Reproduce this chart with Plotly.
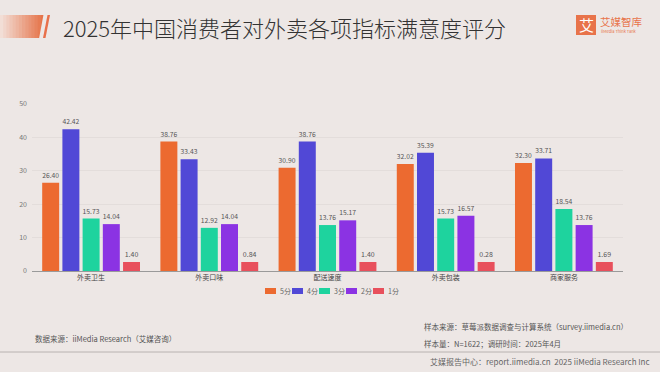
import plotly.graph_objects as go

categories = ["外卖卫生", "外卖口味", "配送速度", "外卖包装", "商家服务"]
series_names = ["5分", "4分", "3分", "2分", "1分"]
score5 = [26.40, 38.76, 30.90, 32.02, 32.30]
score4 = [42.42, 33.43, 38.76, 35.39, 33.71]
score3 = [15.73, 12.92, 13.76, 15.73, 18.54]
score2 = [14.04, 14.04, 15.17, 16.57, 13.76]
score1 = [1.40, 0.84, 1.40, 0.28, 1.69]
colors = ["#EC6A30", "#5148D6", "#1ED39E", "#8B33E3", "#E8505C"]

MIN_BAR = 2.7  # minimum rendered bar height (as in source chart)
FONT = "Noto Sans CJK SC, Noto Sans, sans-serif"

L, R, T, B = 32, 37, 104, 101
W, H = 660, 372
PW, PH = W - L - R, H - T - B


def px(x):
    return (x - L) / PW


def py(y):
    return (H - B - y) / PH


fig = go.Figure()
for name, vals, col in zip(series_names, [score5, score4, score3, score2, score1], colors):
    fig.add_trace(go.Bar(
        x=categories, y=[max(v, MIN_BAR) for v in vals], name=name,
        marker=dict(color=col, line=dict(width=0)),
        text=[f"{v:.2f}" for v in vals], textposition="outside",
        textfont=dict(size=7, color="#555555", family=FONT),
        cliponaxis=False, hoverinfo="skip", showlegend=False,
    ))

BG = "#EDE7E5"
fig.update_layout(
    width=W, height=H,
    paper_bgcolor=BG, plot_bgcolor=BG,
    margin=dict(l=L, r=R, t=T, b=B, autoexpand=False),
    barmode="group", bargap=0.145, bargroupgap=0.16,
    font=dict(family=FONT, size=7, color="#555555"),
    showlegend=False,
    xaxis=dict(showgrid=False, showline=True, linecolor="#9A9A9A", linewidth=1,
               ticks="", tickfont=dict(size=7, color="#444444"), fixedrange=True,
               automargin=False),
    yaxis=dict(range=[0, 50], dtick=10, showgrid=True, gridcolor="#E3DDDB", gridwidth=1,
               zeroline=False, showline=False, tickfont=dict(size=7, color="#777777"),
               ticklabelstandoff=4, automargin=False),
)

# Custom compact legend
leg_x0 = 265
for i, (name, col) in enumerate(zip(series_names, colors)):
    xs = leg_x0 + i * 27
    fig.add_shape(type="rect", xref="paper", yref="paper",
                  x0=px(xs), x1=px(xs + 11), y0=py(294), y1=py(288),
                  line=dict(width=0), fillcolor=col)
    fig.add_annotation(text=name, xref="paper", yref="paper", x=px(xs + 13), y=py(291),
                       xanchor="left", yanchor="middle", showarrow=False,
                       font=dict(size=7, color="#666666", family=FONT))

# Title decoration: gradient block
n = 14
for i in range(n):
    t = i / (n - 1)
    r = int(0xF2 + (0xE6 - 0xF2) * t)
    g = int(0xDE + (0x74 - 0xDE) * t)
    b = int(0xD6 + (0x4A - 0xD6) * t)
    xa = 44 * i / n
    xb = 44 * (i + 1) / n + 0.6
    fig.add_shape(type="rect", xref="paper", yref="paper",
                  x0=px(xa), x1=px(xb), y0=py(38), y1=py(15),
                  line=dict(width=0), fillcolor=f"rgb({r},{g},{b})")
# slanted right edge of the block
fig.add_shape(type="path", xref="paper", yref="paper",
              path=f"M {px(39)},{py(38.5)} L {px(43.5)},{py(14.5)} L {px(46)},{py(14.5)} L {px(46)},{py(38.5)} Z",
              line=dict(width=0), fillcolor=BG)
# thin slash
fig.add_shape(type="path", xref="paper", yref="paper",
              path=f"M {px(43)},{py(38)} L {px(47.5)},{py(15)} L {px(50)},{py(15)} L {px(45.5)},{py(38)} Z",
              line=dict(width=0), fillcolor="#E8704A")

fig.add_annotation(text="2025年中国消费者对外卖各项指标满意度评分", xref="paper", yref="paper",
                   x=px(61), y=py(27), xanchor="left", yanchor="middle", showarrow=False,
                   font=dict(size=22, color="#333333", family=FONT, weight=300))

# Logo
fig.add_shape(type="rect", xref="paper", yref="paper", x0=px(576), x1=px(596), y0=py(35), y1=py(15),
              line=dict(width=0), fillcolor="#E8734A")
fig.add_annotation(text="艾", xref="paper", yref="paper", x=px(586), y=py(25), showarrow=False,
                   xanchor="center", yanchor="middle",
                   font=dict(size=15, color="white", family=FONT))
fig.add_annotation(text="艾媒智库", xref="paper", yref="paper", x=px(598), y=py(21), xanchor="left",
                   yanchor="middle", showarrow=False, font=dict(size=10.5, color="#E8734A", family=FONT))
fig.add_annotation(text="iiMedia Think Tank", xref="paper", yref="paper", x=px(599), y=py(31), xanchor="left",
                   yanchor="middle", showarrow=False, font=dict(size=4, color="#E8734A", family=FONT))

# Footer
fig.add_annotation(text="数据来源：iiMedia Research（艾媒咨询）", xref="paper", yref="paper",
                   x=px(33), y=py(338), xanchor="left", yanchor="middle", showarrow=False,
                   font=dict(size=7.5, color="#555555", family=FONT))
fig.add_annotation(text="样本来源：草莓派数据调查与计算系统（survey.iimedia.cn）", xref="paper", yref="paper",
                   x=px(422), y=py(326), xanchor="left", yanchor="middle", showarrow=False,
                   font=dict(size=7.5, color="#555555", family=FONT))
fig.add_annotation(text="样本量：N=1622；调研时间：2025年4月", xref="paper", yref="paper",
                   x=px(422), y=py(343), xanchor="left", yanchor="middle", showarrow=False,
                   font=dict(size=7.5, color="#555555", family=FONT))
fig.add_shape(type="line", xref="paper", yref="paper", x0=px(0), x1=px(660), y0=py(352), y1=py(352),
              line=dict(color="#B8B2B0", width=1))
fig.add_annotation(text="艾媒报告中心：report.iimedia.cn  2025 iiMedia Research Inc", xref="paper", yref="paper",
                   x=px(652), y=py(361), xanchor="right", yanchor="middle", showarrow=False,
                   font=dict(size=8, color="#666666", family=FONT))

fig.write_html(
    "out.html",
    config={"displayModeBar": False},
    post_script="document.body.style.margin='0';document.body.style.overflow='hidden';",
)
